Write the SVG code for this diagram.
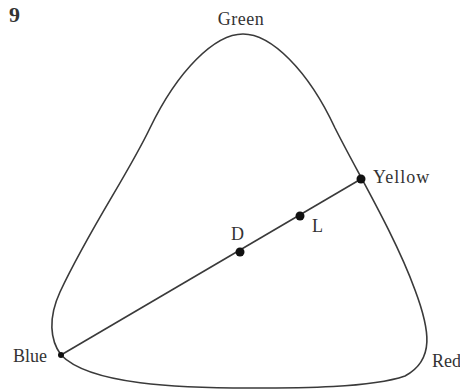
<svg xmlns="http://www.w3.org/2000/svg" width="460" height="389" viewBox="0 0 460 389">
<style>
.lbl{font-family:"Liberation Serif","Times New Roman",serif;font-size:18px;fill:#333}
.edge{fill:none;stroke:#3a3a3a;stroke-width:1.6}
.dot{fill:#111}
</style>
<rect width="460" height="389" fill="#fff"/>
<text x="9" y="22" style="font-family:'Liberation Serif',serif;font-size:22px;font-weight:bold;fill:#333">9</text>
<g id="outline">
<path class="edge" d="M 61,355 C 50,340 48,318 60,292 C 90,228 127,176 150,128 C 178,70 215,34 243,34 C 271,34 308,70 335,128 C 357,172 395,235 415,290 C 430,330 435,360 405,376 C 370,388 300,388 250,388 C 180,388 90,385 61,355 Z"/>
</g>
<g id="connectors">
<line class="edge" x1="61" y1="355" x2="361" y2="179"/>
</g>
<g id="blue"><circle class="dot" cx="61" cy="355" r="3"/><text class="lbl" x="13" y="362">Blue</text></g>
<g id="green"><text class="lbl" x="241" y="25" text-anchor="middle" letter-spacing="0.5">Green</text></g>
<g id="red"><text class="lbl" x="432" y="367">Red</text></g>
<g id="yellow"><circle class="dot" cx="361" cy="179" r="4.5"/><text class="lbl" x="373" y="183" letter-spacing="1">Yellow</text></g>
<g id="L"><circle class="dot" cx="300" cy="216" r="4.5"/><text class="lbl" x="312" y="232">L</text></g>
<g id="D"><circle class="dot" cx="240" cy="252" r="4.5"/><text class="lbl" x="231" y="240">D</text></g>
</svg>
